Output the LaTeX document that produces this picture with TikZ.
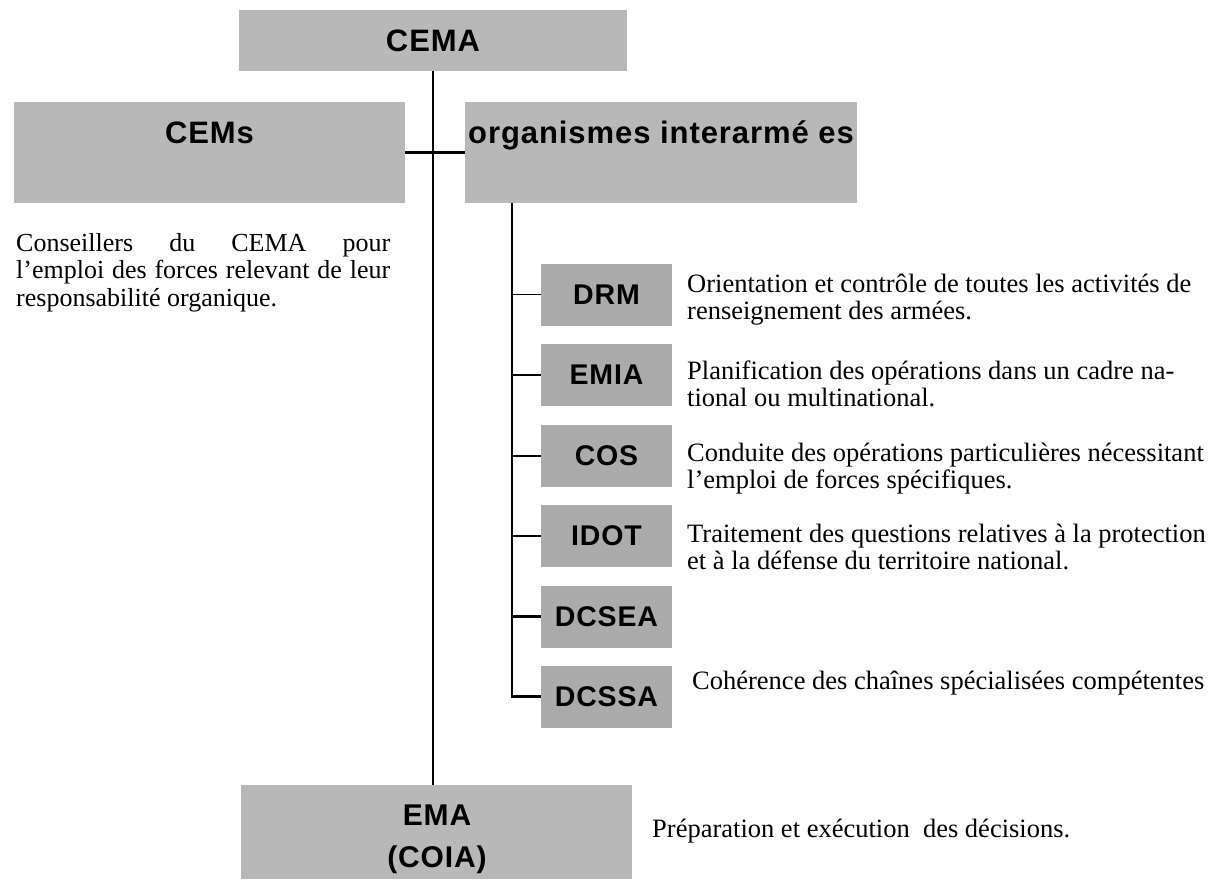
\documentclass[tikz,border=0pt]{standalone}
\usepackage{fontspec}
\setmainfont{Liberation Serif}
\newfontfamily\boxfont{Liberation Sans}[LetterSpace=3]
\definecolor{biggray}{gray}{0.72}
\definecolor{smallgray}{gray}{0.67}
\newcommand{\dtext}[1]{\parbox[t]{540pt}{\raggedright #1}}
\tikzset{
  bigbox/.style={fill=biggray, inner sep=0pt, font=\boxfont\bfseries\fontsize{31}{31}\selectfont},
  smallbox/.style={fill=smallgray, minimum width=131pt, minimum height=62pt, inner sep=0pt,
    font=\boxfont\bfseries\fontsize{28.5}{28.5}\selectfont},
  desc/.style={anchor=base west, inner sep=0pt, font=\fontsize{26.5}{27}\selectfont},
  trunkline/.style={line width=2.2pt},
  branchline/.style={line width=2.6pt},
}
\begin{document}
\begin{tikzpicture}[x=1pt,y=-1pt]
\useasboundingbox (0,0) rectangle (1213,881);
% top level boxes
\node[bigbox, minimum width=388pt, minimum height=61pt] (cema) at (433,40.5) {CEMA};
\node[bigbox, minimum width=391pt, text height=41pt, text depth=60pt] (cems) at (209.5,152.5) {CEMs};
\node[bigbox, minimum width=392pt, text height=41pt, text depth=60pt] (org) at (661,152.5) {organismes interarmé es};
\node[bigbox, minimum width=391pt, minimum height=94pt] (ema) at (436.5,832) {};
\node[bigbox, align=center, font=\boxfont\bfseries\fontsize{30}{42}\selectfont] (emalbl) at (437,839) {EMA\\(COIA)};
% small boxes
\node[smallbox] (drm)   at (606.5,294.5) {DRM};
\node[smallbox] (emia)  at (606.5,375)   {EMIA};
\node[smallbox] (cos)   at (606.5,456)   {COS};
\node[smallbox] (idot)  at (606.5,536)   {IDOT};
\node[smallbox] (dcsea) at (606.5,616.5) {DCSEA};
\node[smallbox] (dcssa) at (606.5,696.5) {DCSSA};
% connectors
\draw[trunkline] (cema.south) -- (cema.south |- ema.north);
\draw[trunkline] (cems.east) -- (org.west);
\coordinate (trunk) at (512,203);
\draw[branchline] (trunk) |- (dcssa.west);
\draw[line width=1.6pt] (trunk |- drm.west) -- (drm.west);
\foreach \b in {emia,cos,idot,dcsea}
  \draw[branchline] (trunk |- \b.west) -- (\b.west);
% texts
\node[anchor=base west, inner sep=0pt, font=\fontsize{26}{27.5}\selectfont] (cemstxt) at (16,251)
  {\parbox[t]{374pt}{\hfuzz=20pt Conseillers du CEMA pour\linebreak l’emploi des forces relevant de leur\linebreak responsabilité organique.}};
\node[desc] (drmtxt) at (687,292) {\dtext{Orientation et contrôle de toutes les activités de\\renseignement des armées.}};
\node[desc] (emiatxt) at (687,379) {\dtext{Planification des opérations dans un cadre na-\\tional ou multinational.}};
\node[desc] (costxt) at (687,461) {\dtext{Conduite des opérations particulières nécessitant\\l’emploi de forces spécifiques.}};
\node[desc] (idottxt) at (687,542) {\dtext{Traitement des questions relatives à la protection\\et à la défense du territoire national.}};
\node[desc] (dcstxt) at (692,689) {Cohérence des chaînes spécialisées compétentes};
\node[desc] (ematxt) at (652,837) {Préparation et exécution\ \ des décisions.};
\end{tikzpicture}
\end{document}
